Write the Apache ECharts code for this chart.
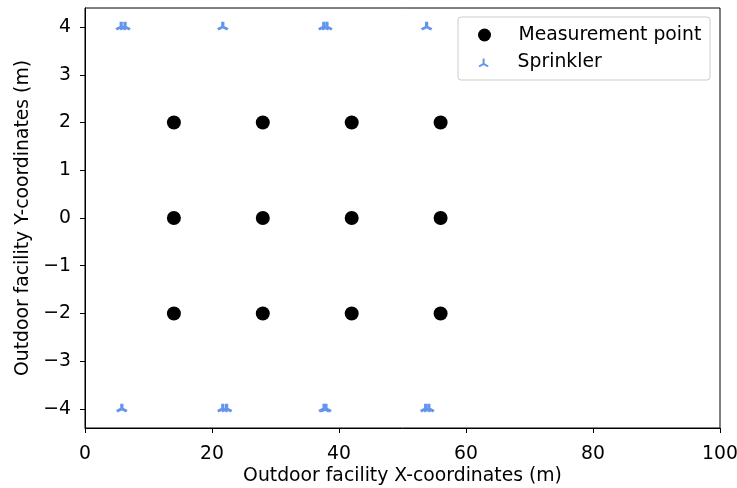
<!DOCTYPE html>
<html>
<head>
<meta charset="utf-8">
<script src="https://cdn.jsdelivr.net/npm/echarts@6/dist/echarts.min.js"></script>
<style>
  html, body { margin: 0; padding: 0; background: #fff; }
  #chart { width: 737px; height: 488px; }
</style>
</head>
<body>
<div id="chart"></div>
<script>
// Measurement points across the facility (x, y in metres)
const measurementPoints = [
  [14, 2], [28, 2], [42, 2], [56, 2],
  [14, 0], [28, 0], [42, 0], [56, 0],
  [14, -2], [28, -2], [42, -2], [56, -2]
];

// Sprinkler heads along the two long edges (x, y in metres)
const sprinklerPoints = [
  [5.7, 4], [6.3, 4], [21.7, 4], [37.6, 4], [38.1, 4], [53.8, 4],
  [5.8, -4], [21.7, -4], [22.3, -4], [37.65, -4], [37.95, -4], [53.65, -4], [54.15, -4]
];

const yTicks = [-4, -3, -2, -1, 0, 1, 2, 3, 4];
const seriesNames = ['Measurement point', 'Sprinkler'];

const FONT = 'DejaVu Sans';
const FS = 18.8;
// three-armed "tri up" marker
const TRI_UP = 'path://M0,0L0,-10M0,0L-8.66,5M0,0L8.66,5';
const minus = v => String(v).replace('-', '\u2212');

const chart = echarts.init(document.getElementById('chart'), null, { renderer: 'canvas' });

chart.setOption({
  animation: false,
  backgroundColor: '#ffffff',
  textStyle: { fontFamily: FONT, color: '#000' },
  grid: {
    left: 85, right: 17, top: 8, bottom: 60,
    outerBoundsMode: 'none', containLabel: false,
    show: true, borderColor: '#000', borderWidth: 1, backgroundColor: 'transparent'
  },
  xAxis: {
    type: 'value', min: 0, max: 100, interval: 20,
    name: 'Outdoor facility X-coordinates (m)',
    nameLocation: 'middle', nameGap: 39, nameMoveOverlap: false,
    nameTextStyle: { fontFamily: FONT, fontSize: FS, color: '#000' },
    axisLine: { show: true, onZero: false, lineStyle: { color: '#000', width: 1 } },
    axisTick: { show: true, inside: false, length: 5, lineStyle: { color: '#000', width: 1 } },
    axisLabel: { fontFamily: FONT, fontSize: FS, color: '#000', margin: 17, formatter: minus },
    splitLine: { show: false }
  },
  yAxis: {
    type: 'value', min: -4.4, max: 4.4,
    name: 'Outdoor facility Y-coordinates (m)',
    nameLocation: 'middle', nameGap: 52, nameMoveOverlap: false,
    nameTextStyle: { fontFamily: FONT, fontSize: FS, color: '#000' },
    axisLine: { show: true, onZero: false, lineStyle: { color: '#000', width: 1 } },
    axisTick: { show: true, inside: false, length: 5, customValues: yTicks, lineStyle: { color: '#000', width: 1 } },
    axisLabel: { fontFamily: FONT, fontSize: FS, color: '#000', margin: 14, customValues: yTicks, formatter: minus },
    splitLine: { show: false }
  },
  graphic: [{
    type: 'rect', z: 10,
    shape: { x: 458, y: 17, width: 252, height: 63, r: 3 },
    style: { fill: 'rgba(255,255,255,0.8)', stroke: '#cccccc', lineWidth: 1 }
  }],
  legend: [
    {
      data: [seriesNames[0]], z: 20,
      left: 478, top: 25.5, padding: 0,
      itemWidth: 58, itemHeight: 13,
      textStyle: { fontFamily: FONT, fontSize: FS, color: '#000', lineHeight: 13 }
    },
    {
      data: [seriesNames[1]], z: 20,
      left: 478, top: 53, padding: 0,
      itemWidth: 58, itemHeight: 8,
      symbolKeepAspect: true,
      textStyle: { fontFamily: FONT, fontSize: FS, color: '#000', lineHeight: 8 }
    }
  ],
  series: [
    {
      name: seriesNames[0], type: 'scatter',
      data: measurementPoints,
      symbol: 'circle', symbolSize: 14,
      itemStyle: { color: '#000000', opacity: 1 }
    },
    {
      name: seriesNames[1], type: 'scatter',
      data: sprinklerPoints,
      symbol: TRI_UP, symbolKeepAspect: true,
      symbolSize: [10, 8.7], symbolOffset: [0, -1.5],
      itemStyle: { color: 'rgba(0,0,0,0)', borderColor: '#6495ED', borderWidth: 3, opacity: 1 }
    }
  ]
});
</script>
</body>
</html>
